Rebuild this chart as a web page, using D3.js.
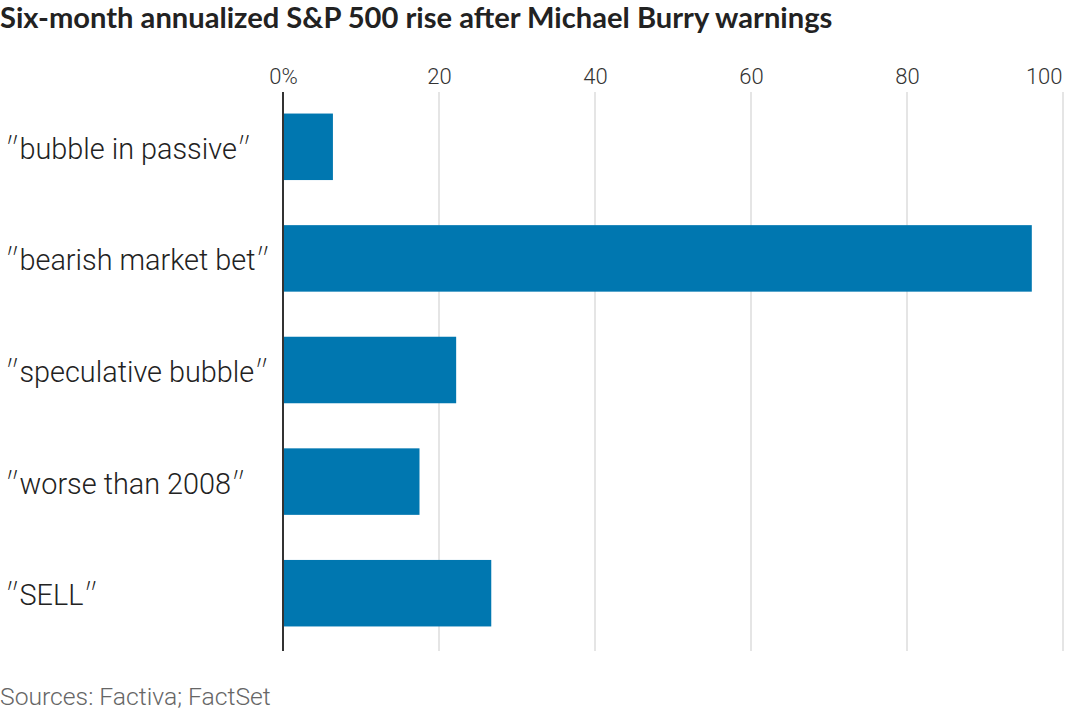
<!DOCTYPE html>
<html><head><meta charset="utf-8">
<script src="https://cdn.jsdelivr.net/npm/d3@7/dist/d3.min.js"></script>
<style>
html,body{margin:0;padding:0;background:#fff;}
svg{display:block;}
</style></head>
<body>
<svg id="chart" width="1068" height="712"></svg>
<script>
const title = "Six-month annualized S&P 500 rise after Michael Burry warnings";
const source = "Sources: Factiva; FactSet";
const categories = ["″bubble in passive″", "″bearish market bet″", "″speculative bubble″", "″worse than 2008″", "″SELL″"];
const values = [6.4, 96.0, 22.2, 17.5, 26.7];
const tickValues = [0, 20, 40, 60, 80, 100];
const tickLabels = ["0%", "20", "40", "60", "80", "100"];

const W = 1068, H = 712;
const svg = d3.select("#chart");
const font = "Lato, 'Noto Sans', sans-serif";
const lightFont = "Roboto, 'Noto Sans', sans-serif";

const x = d3.scaleLinear().domain([0, 100]).range([283, 1063]);
const y = d3.scaleBand().domain(categories).range([91, 649]).paddingInner(0.404).paddingOuter(0.202);

// title
const t = svg.append("text").attr("x", 0).attr("y", 28).attr("font-family", font)
  .attr("font-weight", 700).attr("font-size", 25).attr("fill", "#222").text(title);
const tw = t.node().getComputedTextLength();
t.attr("font-size", 25 * 833 / tw);

// gridlines
const grid = svg.append("g");
grid.selectAll("line").data(tickValues.filter(d => d !== 0)).join("line")
  .attr("x1", d => x(d)).attr("x2", d => x(d)).attr("y1", 92).attr("y2", 651)
  .attr("stroke", "#dcdcdc").attr("stroke-width", 1.5);

// top axis labels
const axis = d3.axisTop(x).tickValues(tickValues).tickSize(0).tickFormat((d, i) => tickLabels[i]);
const ag = svg.append("g").attr("transform", "translate(0,84)").call(axis);
ag.select(".domain").remove();
ag.selectAll("text").attr("font-family", lightFont).attr("font-weight", 300).attr("font-size", 22)
  .attr("fill", "#333").attr("dy", 0).attr("y", 0);
ag.selectAll(".tick").filter(d => d === 100).select("text").attr("text-anchor", "end").attr("x", -1);

// bars
svg.append("g").selectAll("rect").data(categories).join("rect")
  .attr("x", x(0)).attr("y", d => y(d))
  .attr("width", (d, i) => x(values[i]) - x(0)).attr("height", y.bandwidth())
  .attr("fill", "#0077b0");

// zero axis line
svg.append("line").attr("x1", x(0)).attr("x2", x(0)).attr("y1", 92).attr("y2", 651)
  .attr("stroke", "#333").attr("stroke-width", 2);

// category labels (quote marks drawn in Lato for the slanted double prime)
const lg = svg.append("g");
const labs = lg.selectAll("text").data(categories).join("text")
  .attr("x", 5).attr("y", d => y(d) + y.bandwidth() / 2 + 12)
  .attr("font-family", lightFont).attr("font-weight", 300).attr("font-size", 27)
  .attr("fill", "#222");
labs.each(function(d) {
  const g = d3.select(this);
  const inner = d.slice(1, -1);
  g.append("tspan").attr("font-family", font).attr("font-weight", 300).text("″");
  g.append("tspan").text(inner);
  g.append("tspan").attr("font-family", font).attr("font-weight", 300).text("″");
});
const refW = labs.filter((d, i) => i === 1).node().getComputedTextLength();
labs.attr("font-size", 27 * 265 / refW);

// source
const s = svg.append("text").attr("x", 0).attr("y", 705).attr("font-family", lightFont)
  .attr("font-weight", 300).attr("font-size", 21).attr("fill", "#666").text(source);
const sw = s.node().getComputedTextLength();
s.attr("font-size", 21 * 271 / sw);
</script>
</body></html>
